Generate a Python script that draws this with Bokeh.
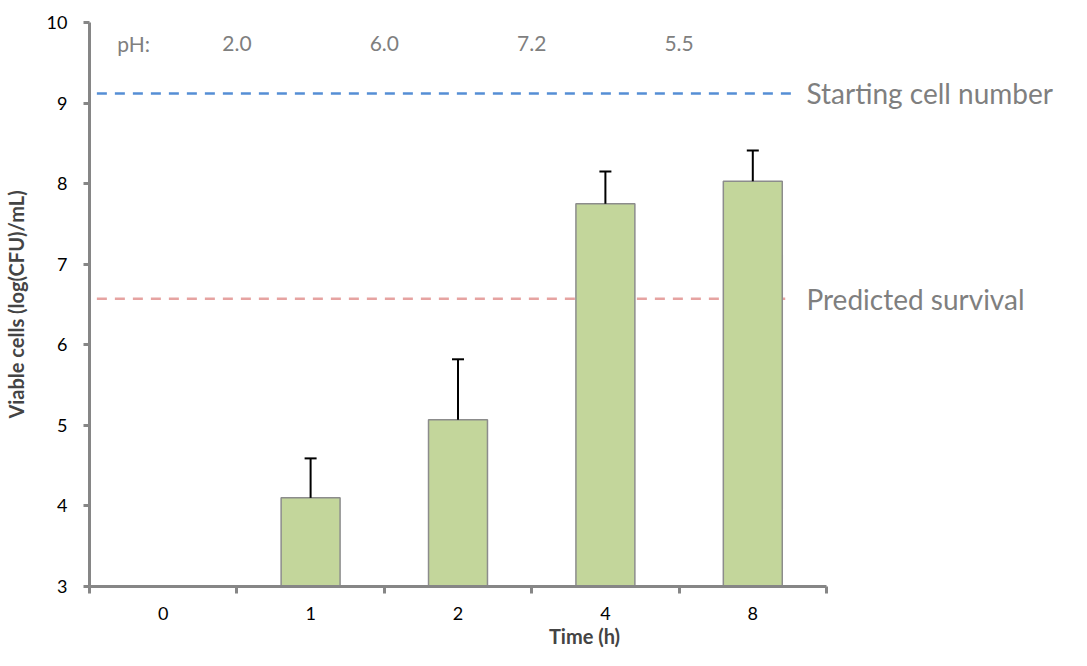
from bokeh.plotting import figure
from bokeh.models import Range1d, FixedTicker, Whisker, ColumnDataSource, Label, TeeHead
from bokeh.embed import file_html
from bokeh.resources import INLINE
from bokeh.core.properties import value

# ---- data ----
time_labels = ["0", "1", "2", "4", "8"]
viable = [3.0, 4.10, 5.07, 7.75, 8.03]
err_up = [0.0, 0.49, 0.75, 0.40, 0.38]
ph_labels = ["2.0", "6.0", "7.2", "5.5"]
starting_cells = 9.12
predicted_survival = 6.57
y_ticks = [3, 4, 5, 6, 7, 8, 9, 10]

FONT = "Lato"
GRAY_AX = "#868686"
TXT_GRAY = "#7F7F7F"

n = len(time_labels)
xs = [i + 0.5 for i in range(n)]

W, H = 1079, 650
LEFT, TOP, BOTTOM, RIGHT = 89, 22, 64, 0
cat_px = 737.0 / n            # pixel width of one category
x_end = (W - LEFT - RIGHT) / cat_px

p = figure(width=W, height=H, x_range=Range1d(0, x_end), y_range=Range1d(3, 10),
           output_backend="svg", toolbar_location=None,
           min_border_left=LEFT, min_border_right=RIGHT, min_border_top=TOP,
           min_border_bottom=BOTTOM)
p.grid.visible = False
p.outline_line_color = None
p.background_fill_color = "white"
p.border_fill_color = "white"

# reference lines
p.segment(x0=[0.05], x1=[4.76], y0=[starting_cells], y1=[starting_cells],
          line_color="#558ED5", line_width=2.5, line_dash="10 8")
p.segment(x0=[0.05], x1=[4.72], y0=[predicted_survival], y1=[predicted_survival],
          line_color="#E6A3A1", line_width=2.5, line_dash="10 8")

# bars
p.vbar(x=xs, top=viable, bottom=3, width=0.4, fill_color="#C3D69B",
       line_color="#8C8C8C", line_width=1.5)

# error bars (upper only)
ex = [x for x, e in zip(xs, err_up) if e > 0]
elo = [v for v, e in zip(viable, err_up) if e > 0]
ehi = [v + e for v, e in zip(viable, err_up) if e > 0]
esrc = ColumnDataSource(dict(x=ex, lower=elo, upper=ehi))
w = Whisker(base="x", lower="lower", upper="upper", source=esrc, dimension="height",
            line_color="black", line_width=2,
            upper_head=TeeHead(size=12, line_color="black", line_width=2), lower_head=None,
            level="overlay")
p.add_layout(w)

# pH labels
ph_x = [i + 1 for i in range(len(ph_labels))]
p.text(x=ph_x, y=[9.74] * len(ph_labels), text=ph_labels, text_align="center",
       text_baseline="middle", text_font=value(FONT), text_font_size="21px", text_color=TXT_GRAY)
p.add_layout(Label(x=0.30, y=9.74, text="pH:", text_align="center", text_baseline="middle",
                   text_font=FONT, text_font_size="21px", text_color=TXT_GRAY))

# legend-like texts
p.add_layout(Label(x=4.864, y=starting_cells, text="Starting cell number", text_baseline="middle",
                   text_font=FONT, text_font_size="28px", text_color=TXT_GRAY))
p.add_layout(Label(x=4.864, y=predicted_survival, text="Predicted survival", text_baseline="middle",
                   text_font=FONT, text_font_size="28px", text_color=TXT_GRAY))

# x axis
xa = p.xaxis[0]
xa.bounds = (0, n)
xa.ticker = FixedTicker(ticks=xs, minor_ticks=list(range(n + 1)))
xa.major_label_overrides = {x: t for x, t in zip(xs, time_labels)}
xa.axis_line_color = GRAY_AX
xa.axis_line_width = 3
xa.major_tick_in = 0
xa.major_tick_out = 0
xa.minor_tick_in = 0
xa.minor_tick_out = 7
xa.minor_tick_line_color = GRAY_AX
xa.minor_tick_line_width = 3
xa.major_label_standoff = 13
xa.major_label_text_font = FONT
xa.major_label_text_font_size = "18px"
xa.major_label_text_color = "black"
xa.axis_label = "Time (h)"
xa.axis_label_text_font = FONT
xa.axis_label_text_font_style = "bold"
xa.axis_label_text_font_size = "20px"
xa.axis_label_standoff = 1

# y axis
ya = p.yaxis[0]
ya.ticker = FixedTicker(ticks=y_ticks, minor_ticks=[])
ya.axis_line_color = GRAY_AX
ya.axis_line_width = 3
ya.major_tick_in = 0
ya.major_tick_out = 6
ya.major_tick_line_color = GRAY_AX
ya.major_tick_line_width = 3
ya.minor_tick_line_color = None
ya.major_label_standoff = 16
ya.major_label_text_font = FONT
ya.major_label_text_font_size = "18px"
ya.major_label_text_color = "black"
ya.axis_label = "Viable cells (log(CFU)/mL)"
ya.axis_label_text_font = FONT
ya.axis_label_text_font_style = "bold"
ya.axis_label_text_font_size = "20px"
ya.axis_label_standoff = 16

open("out.html", "w").write(file_html(p, INLINE))
